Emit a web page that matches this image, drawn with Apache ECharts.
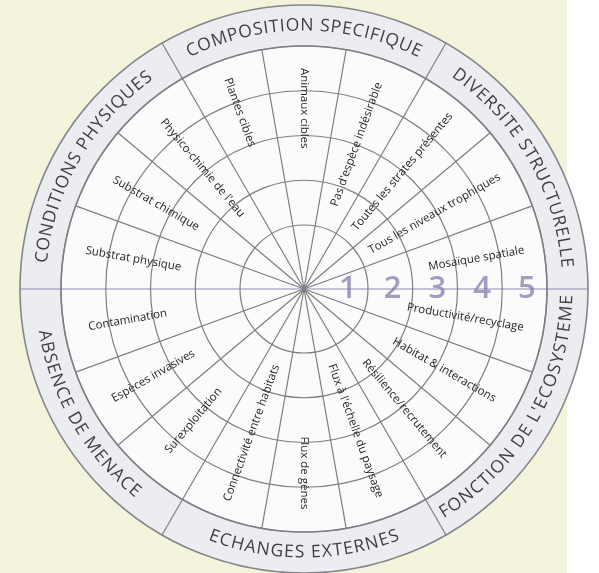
<!DOCTYPE html>
<html>
<head>
<meta charset="utf-8">
<script src="https://cdn.jsdelivr.net/npm/echarts@6/dist/echarts.min.js"></script>
<style>
  html, body { margin: 0; padding: 0; }
  body { background: linear-gradient(to right, #f4f3dc 567px, #ffffff 567px); }
  #chart { width: 599px; height: 573px; }
</style>
</head>
<body>
<div id="chart"></div>
<script>
// grands thèmes, sens horaire à partir du haut
var categories = ['COMPOSITION SPECIFIQUE', 'DIVERSITE STRUCTURELLE', "FONCTION DE L'ECOSYSTEME",
  'ECHANGES EXTERNES', 'ABSENCE DE MENACE', 'CONDITIONS PHYSIQUES'];
var categoryAngles = [90, 30, 330, 270, 210, 150];

// attributs de chaque thème (sens horaire)
var subCategories = [
  ['Plantes cibles', 'Animaux cibles', "Pas d'espèce indésirable"],
  ['Toutes les strates présentes', 'Tous les niveaux trophiques', 'Mosaïque spatiale'],
  ['Productivité/recyclage', 'Habitat & interactions', 'Résilience/recrutement'],
  ["Flux à l'échelle du paysage", 'Flux de gènes', 'Connectivité entre habitats'],
  ['Surexploitation', 'Espèces invasives', 'Contamination'],
  ['Substrat physique', 'Substrat chimique', "Physico-chimie de l'eau"]
];

// niveaux (anneaux)
var levels = [1, 2, 3, 4, 5];
var levelLabels = ['1', '2', '3', '4', '5'];

// placement des libellés le long du rayon (unités de l'axe radial)
var subLabelR = [
  [3.77, 3.61, 3.01],
  [2.99, 2.94, 3.48],
  [3.23, 3.19, 3.06],
  [2.94, 3.68, 2.99],
  [3.41, 3.46, 3.57],
  [3.44, 3.39, 3.10]
];

var lineColor = '#7e7e86';
var accent = '#8d8ab0';
var bandFontSize = 17.5;
var bandGap = 1.0;

var flatSub = [];
var subData = [];
subCategories.forEach(function (list, i) {
  list.forEach(function (name, j) {
    flatSub.push(name);
    subData.push([subLabelR[i][j], categoryAngles[i] + 20 - 20 * j]);
  });
});

var measureCtx = document.createElement('canvas').getContext('2d');
measureCtx.font = bandFontSize + 'px "Open Sans"';

function radiusOf(params, api, v, a) {
  var cs = params.coordSys;
  var p = api.coord([v, a]);
  return Math.hypot(p[0] - cs.cx, p[1] - cs.cy);
}

var chart = echarts.init(document.getElementById('chart'));

chart.setOption({
  animation: false,
  polar: [
    { center: [304, 289], radius: [0, 243] },
    { center: [304, 289], radius: [243, 284] }
  ],
  angleAxis: [
    {
      polarIndex: 0, type: 'value', min: 0, max: 360, interval: 20,
      startAngle: 0, clockwise: false,
      axisLine: { show: false }, axisTick: { show: false }, axisLabel: { show: false },
      splitLine: { show: true, lineStyle: { color: [accent, lineColor, lineColor, lineColor, lineColor, lineColor, lineColor, lineColor, lineColor], width: 1.2 } },
      splitArea: { show: false }
    },
    {
      polarIndex: 1, type: 'value', min: 0, max: 360, interval: 60,
      startAngle: 0, clockwise: false,
      axisLine: { show: true, lineStyle: { color: '#85858c', width: 1.6 } },
      axisTick: { show: false }, axisLabel: { show: false },
      splitLine: { show: true, lineStyle: { color: [accent, lineColor, lineColor], width: 1.2 } },
      splitArea: { show: false }
    }
  ],
  radiusAxis: [
    { polarIndex: 0, type: 'value', min: -0.43, max: 5, show: false,
      axisLine: { show: false }, splitLine: { show: false }, axisLabel: { show: false }, axisTick: { show: false } },
    { polarIndex: 1, type: 'value', min: 0, max: 1, show: false,
      axisLine: { show: false }, splitLine: { show: false }, axisLabel: { show: false }, axisTick: { show: false } }
  ],
  series: [
    {
      // fonds : couronne grise et disque blanc, sous les axes
      type: 'custom', coordinateSystem: 'polar', polarIndex: 1, z: -1,
      data: [[1, 0], [0, 0]],
      renderItem: function (params, api) {
        var cs = params.coordSys;
        return {
          type: 'circle',
          shape: { cx: cs.cx, cy: cs.cy, r: radiusOf(params, api, api.value(0), 0) },
          style: { fill: params.dataIndex === 0 ? '#ecedf0' : '#fbfbfb' }
        };
      }
    },
    {
      // anneaux 1..5
      type: 'custom', coordinateSystem: 'polar', polarIndex: 0,
      data: levels.map(function (v) { return [v, 0]; }),
      renderItem: function (params, api) {
        var cs = params.coordSys;
        return {
          type: 'circle',
          shape: { cx: cs.cx, cy: cs.cy, r: radiusOf(params, api, api.value(0), 0) },
          style: { fill: 'none', stroke: lineColor, lineWidth: 1.2 }
        };
      }
    },
    {
      // chiffres des niveaux
      type: 'custom', coordinateSystem: 'polar', polarIndex: 0,
      data: levels.map(function (v) { return [v - 0.45, 0]; }),
      renderItem: function (params, api) {
        var p = api.coord([api.value(0), api.value(1)]);
        return {
          type: 'text', x: p[0], y: p[1],
          style: {
            text: levelLabels[params.dataIndex], fill: 'rgba(130,126,172,0.75)',
            fontSize: 31, fontWeight: 600, fontFamily: 'Open Sans',
            align: 'center', verticalAlign: 'middle'
          }
        };
      }
    },
    {
      // libellés des attributs
      type: 'custom', coordinateSystem: 'polar', polarIndex: 0,
      data: subData,
      renderItem: function (params, api) {
        var a = api.value(1);
        var p = api.coord([api.value(0), a]);
        var n = ((a % 360) + 360) % 360;
        if (n > 180) n -= 360;
        var rot = (n >= -90 && n < 90) ? n : n - 180;
        return {
          type: 'text', x: p[0], y: p[1], rotation: rot * Math.PI / 180,
          style: {
            text: flatSub[params.dataIndex], fill: '#262626',
            fontSize: 11.5, fontFamily: 'Open Sans',
            align: 'center', verticalAlign: 'middle'
          }
        };
      }
    },
    {
      // titres courbes dans la couronne
      type: 'custom', coordinateSystem: 'polar', polarIndex: 1,
      data: categoryAngles.map(function (a) { return [0.5, a]; }),
      renderItem: function (params, api) {
        var text = categories[params.dataIndex];
        var mid = api.value(1);
        var top = Math.sin(mid * Math.PI / 180) > 0;
        var R = radiusOf(params, api, 0.5, mid);
        var chars = text.split('');
        var widths = chars.map(function (ch) { return measureCtx.measureText(ch).width; });
        var total = widths.reduce(function (s, w) { return s + w + bandGap; }, 0) - bandGap;
        var span = total / R * 180 / Math.PI;
        var cum = 0;
        var children = chars.map(function (ch, i) {
          var off = (cum + widths[i] / 2) / R * 180 / Math.PI;
          cum += widths[i] + bandGap;
          var th = top ? mid + span / 2 - off : mid - span / 2 + off;
          var p = api.coord([0.5, th]);
          var rot = top ? th - 90 : th + 90;
          return {
            type: 'text', x: p[0], y: p[1], rotation: rot * Math.PI / 180,
            style: {
              text: ch, fill: '#3e3e4a', fontSize: bandFontSize, fontFamily: 'Open Sans',
              align: 'center', verticalAlign: 'middle'
            }
          };
        });
        return { type: 'group', children: children };
      }
    }
  ]
});
</script>
</body>
</html>
